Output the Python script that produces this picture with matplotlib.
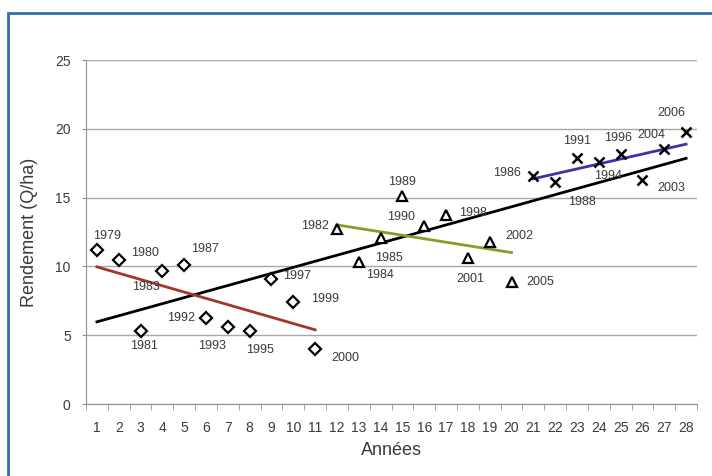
import numpy as np
import matplotlib.pyplot as plt
from matplotlib.patches import Rectangle

plt.rcParams['font.family'] = ['Liberation Sans', 'DejaVu Sans']

# groupe 1 : losanges
x1 = [1, 2, 3, 4, 5, 6, 7, 8, 9, 10, 11]
y1 = [11.2, 10.5, 5.3, 9.7, 10.1, 6.25, 5.6, 5.3, 9.1, 7.4, 4.0]
lab1 = ['1979', '1980', '1981', '1983', '1987', '1992', '1993', '1995', '1997', '1999', '2000']

# groupe 2 : triangles
x2 = [12, 13, 14, 15, 16, 17, 18, 19, 20]
y2 = [12.7, 10.3, 12.1, 15.1, 12.9, 13.7, 10.6, 11.8, 8.9]
lab2 = ['1982', '1984', '1985', '1989', '1990', '1998', '2001', '2002', '2005']

# groupe 3 : croix
x3 = [21, 22, 23, 24, 25, 26, 27, 28]
y3 = [16.6, 16.1, 17.9, 17.6, 18.2, 16.3, 18.5, 19.8]
lab3 = ['1986', '1988', '1991', '1994', '1996', '2003', '2004', '2006']

# decalage des etiquettes (pixels)
off1 = [(10, 14), (26, 7), (3, -15), (-16, -16), (21, 16), (-25, 0),
        (-16, -19), (10, -19), (26, 3), (32, 3), (30, -9)]
off2 = [(-22, 3), (21, -13), (8, -20), (0, 14), (-23, 9), (27, 2),
        (2, -21), (30, 6), (29, 0)]
off3 = [(-26, 3), (27, -20), (0, 17), (9, -14), (-3, 16), (29, -8),
        (-13, 14), (-15, 19)]

txt = '#3a3a3a'

fig = plt.figure(figsize=(7.12, 4.76), dpi=100)
fig.patches.append(Rectangle((8 / 712, -0.05), 1.1, 1 - 13 / 476 + 0.05,
                             transform=fig.transFigure, fill=False,
                             edgecolor='#2e6db4', linewidth=2))
ax = fig.add_axes([86 / 712, 1 - 404 / 476, 611 / 712, 344 / 476])


def trend(x, y, color):
    p = np.polyfit(x, y, 1)
    xs = np.array([x[0], x[-1]])
    ax.plot(xs, np.polyval(p, xs), color=color, lw=2, zorder=2)


trend(x1 + x2 + x3, y1 + y2 + y3, 'black')
trend(x1, y1, '#a3352b')
trend(x2, y2, '#8c9a2c')
trend(x3, y3, '#3b33a8')

ax.plot(x1, y1, 'D', ms=6, mfc='white', mec='black', mew=1.6, ls='none', zorder=3)
ax.plot(x2, y2, '^', ms=7, mfc='white', mec='black', mew=1.6, ls='none', zorder=3)
ax.plot(x3, y3, 'x', ms=7, color='black', mew=1.8, ls='none', zorder=3)

for xs, ys, labs, offs in [(x1, y1, lab1, off1), (x2, y2, lab2, off2), (x3, y3, lab3, off3)]:
    for x, y, s, o in zip(xs, ys, labs, offs):
        ax.annotate(s, (x, y), xytext=o, textcoords='offset pixels',
                    ha='center', va='center', fontsize=9, color=txt)

ax.set_xlim(0.5, 28.5)
ax.set_ylim(0, 25)
ax.set_xticks(range(1, 29))
ax.set_xticks(np.arange(0.5, 29, 1), minor=True)
ax.set_yticks(range(0, 26, 5))
ax.tick_params(axis='x', which='major', length=0, pad=12, labelsize=10, labelcolor=txt)
ax.tick_params(axis='x', which='minor', length=4, color='#909090', direction='out')
ax.tick_params(axis='y', length=3, color='#909090', pad=8, labelsize=10, labelcolor=txt)
ax.grid(axis='y', color='#a8a8a8', lw=1)
ax.set_axisbelow(True)
for s in ['top', 'right']:
    ax.spines[s].set_visible(False)
for s in ['left', 'bottom']:
    ax.spines[s].set_color('#909090')

ax.set_xlabel('Années', fontsize=13, color=txt, labelpad=5)
ax.set_ylabel('Rendement (Q/ha)', fontsize=13, color=txt, labelpad=12)

fig.savefig('out.png', dpi=100)
